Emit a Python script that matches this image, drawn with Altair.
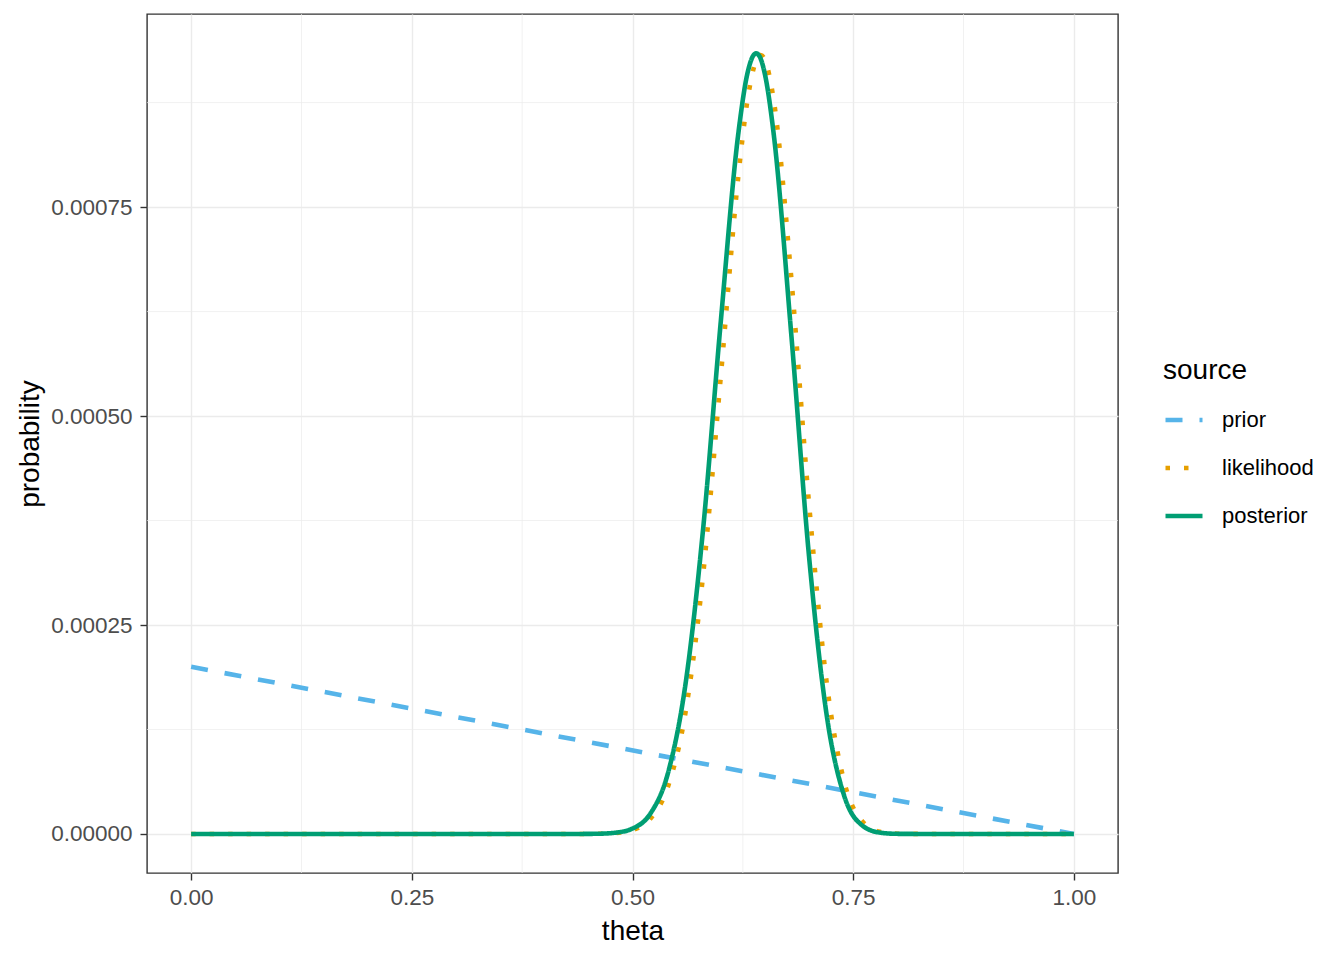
import altair as alt
import pandas as pd

# ---- data ----
theta_prior = [0.0, 1.0]
prior = [0.0002, 0.0]

theta = [0.0, 0.20, 0.40, 0.44, 0.46, 0.48, 0.50, 0.52, 0.54, 0.56, 0.58, 0.60,
         0.62, 0.63, 0.64, 0.645, 0.65, 0.66, 0.68, 0.70, 0.72, 0.74, 0.76,
         0.78, 0.80, 0.84, 1.0]
likelihood = [0, 0, 0, 0.00000002, 0.00000017, 0.00000099, 0.0000046, 0.0000178,
              0.000056, 0.000145, 0.00031, 0.000547, 0.000788, 0.000876, 0.000925,
              0.000932, 0.000926, 0.000878, 0.000664, 0.000395, 0.000181,
              0.0000619, 0.0000155, 0.0000027, 0.0000003, 0, 0]
posterior = [0, 0, 0, 0.00000004, 0.00000026, 0.00000145, 0.0000065, 0.000024,
             0.0000722, 0.000179, 0.000365, 0.000613, 0.000839, 0.000909, 0.000934,
             0.000928, 0.000909, 0.000837, 0.000596, 0.000332, 0.000142,
             0.0000451, 0.0000104, 0.00000166, 0.00000017, 0, 0]

sources = ["prior", "likelihood", "posterior"]
colors = ["#56B4E9", "#E69F00", "#009E73"]
dashes = [[17, 17], [4.5, 14], [1, 0]]

x_ticks = [0.0, 0.25, 0.50, 0.75, 1.0]
x_minor = [0.125, 0.375, 0.625, 0.875]
y_ticks = [0.0, 0.00025, 0.0005, 0.00075]
y_minor = [0.000125, 0.000375, 0.000625, 0.000875]

rows = []
for t, v in zip(theta_prior, prior):
    rows.append({"theta": t, "probability": v, "source": "prior"})
for t, v in zip(theta, likelihood):
    rows.append({"theta": t, "probability": v, "source": "likelihood"})
for t, v in zip(theta, posterior):
    rows.append({"theta": t, "probability": v, "source": "posterior"})
df = pd.DataFrame(rows)

x_enc = alt.X("theta:Q",
              scale=alt.Scale(domain=[-0.05, 1.05], nice=False, zero=False),
              axis=alt.Axis(values=x_ticks, format=".2f", title="theta",
                            labelPadding=6, titlePadding=9))
y_enc = alt.Y("probability:Q",
              scale=alt.Scale(domain=[-0.0000467, 0.000981], nice=False, zero=False),
              axis=alt.Axis(values=y_ticks, format=".5f", title="probability",
                            labelPadding=8, titlePadding=6))

color_enc = alt.Color("source:N",
                      scale=alt.Scale(domain=sources, range=colors),
                      legend=alt.Legend(title="source"))
dash_enc = alt.StrokeDash("source:N",
                          scale=alt.Scale(domain=sources, range=dashes),
                          legend=alt.Legend(title="source"))

minor_x = alt.Chart(pd.DataFrame({"theta": x_minor})).mark_rule(
    color="#EBEBEB", strokeWidth=0.7).encode(x=x_enc)
minor_y = alt.Chart(pd.DataFrame({"probability": y_minor})).mark_rule(
    color="#EBEBEB", strokeWidth=0.7).encode(y=y_enc)

layers = [minor_x, minor_y]
for s in sources:
    layers.append(
        alt.Chart(df).transform_filter(alt.datum.source == s)
        .mark_line(strokeWidth=4.6, interpolate="monotone", strokeCap="butt")
        .encode(x=x_enc, y=y_enc, color=color_enc, strokeDash=dash_enc)
    )

chart = alt.layer(*layers).properties(
    width=971, height=859,
    autosize=alt.AutoSizeParams(type="none"),
    padding={"left": 139, "top": 6, "right": 210, "bottom": 75},
).configure(
    font="Liberation Sans",
).configure_view(
    stroke="#333333", strokeWidth=1.4
).configure_axis(
    domain=False,
    grid=True, gridColor="#EBEBEB", gridWidth=1.4,
    ticks=True, tickColor="#333333", tickWidth=1.4, tickSize=7,
    labelFont="Liberation Sans", labelFontSize=22.5, labelColor="#4D4D4D",
    titleFont="Liberation Sans", titleFontSize=28, titleFontWeight="normal",
    titleColor="#000000",
).configure_legend(
    orient="none", legendX=1016, legendY=343, padding=0,
    symbolType="stroke", symbolSize=1369, symbolStrokeWidth=4.6,
    titleFont="Liberation Sans", titleFontSize=28, titleFontWeight="normal",
    titleColor="#000000", titlePadding=14,
    labelFont="Liberation Sans", labelFontSize=22, labelColor="#000000",
    labelOffset=17, rowPadding=16,
)

chart.save("out.html", embed_options={"renderer": "svg", "actions": False})
